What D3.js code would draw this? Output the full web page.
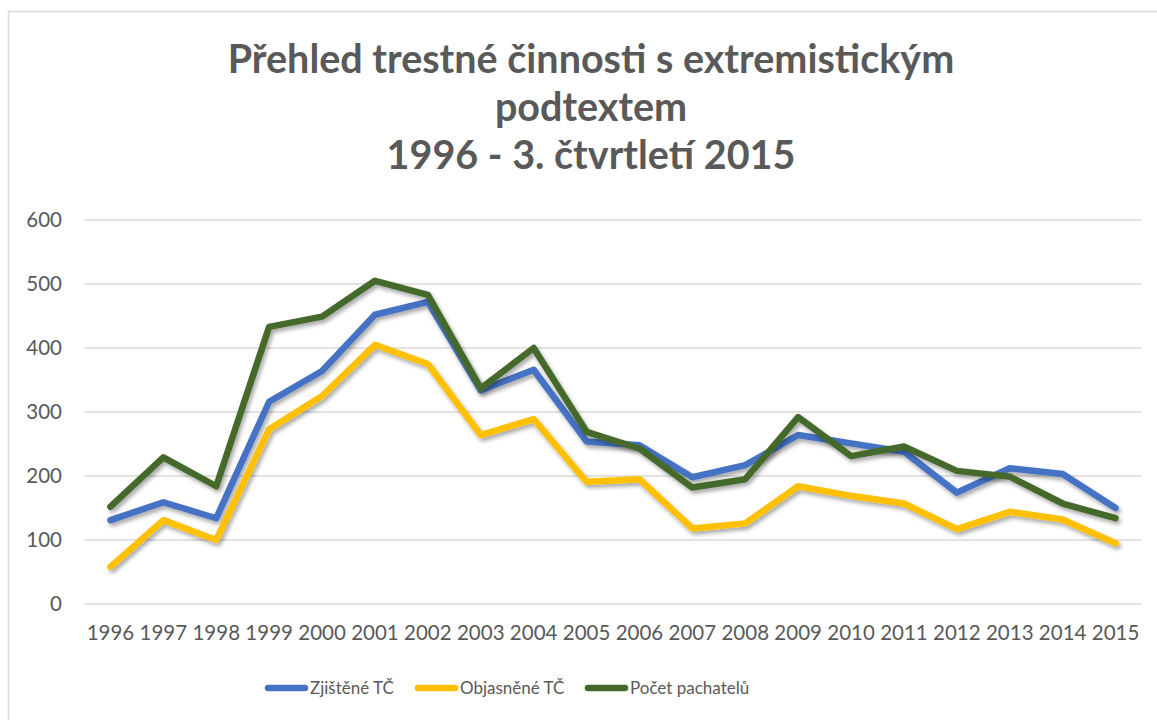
<!DOCTYPE html>
<html>
<head>
<meta charset="utf-8">
<script src="https://cdn.jsdelivr.net/npm/d3@7"></script>
<style>
  body { margin: 0; background: #fff; }
  svg { display: block; font-family: Lato, "Open Sans", sans-serif; }
</style>
</head>
<body>
<svg id="chart" width="1157" height="720"></svg>
<script>
// data
var years = ["1996","1997","1998","1999","2000","2001","2002","2003","2004","2005",
             "2006","2007","2008","2009","2010","2011","2012","2013","2014","2015"];
var zjistene = [131,159,134,316,364,452,472,334,366,254,248,198,217,264,251,238,174,212,203,150];
var objasnene = [58,131,100,273,325,405,375,264,289,191,195,118,126,184,169,157,117,144,132,95];
var pachatele = [152,229,184,433,449,505,483,337,400,269,243,182,195,292,231,246,208,199,157,134];
var yTicks = [0,100,200,300,400,500,600];
var titleLines = ["Přehled trestné činnosti s extremistickým", "podtextem", "1996 - 3. čtvrtletí 2015"];

var series = [
  { name: "Zjištěné TČ", values: zjistene, color: "#4472C4" },
  { name: "Objasněné TČ", values: objasnene, color: "#FFC000" },
  { name: "Počet pachatelů", values: pachatele, color: "#44692B" }
];

var svg = d3.select("#chart");

// outer frame
svg.append("rect")
  .attr("x", 8.5).attr("y", 11.5)
  .attr("width", 1160).attr("height", 720)
  .attr("fill", "none").attr("stroke", "#d9d9d9").attr("stroke-width", 1.5);

// shadow for the lines
var defs = svg.append("defs");
var f = defs.append("filter").attr("id", "shadow")
  .attr("x", "-5%").attr("y", "-5%").attr("width", "110%").attr("height", "120%");
f.append("feDropShadow")
  .attr("dx", 2).attr("dy", 3).attr("stdDeviation", 2)
  .attr("flood-color", "#000").attr("flood-opacity", 0.35);

// title
svg.append("text")
  .attr("text-anchor", "middle")
  .attr("fill", "#595959").attr("font-weight", "bold").attr("font-size", 39.5)
  .selectAll("tspan").data(titleLines).join("tspan")
  .attr("x", 591)
  .attr("y", function(d, i) { return 73 + i * 48; })
  .text(function(d) { return d; });

var x = d3.scaleBand().domain(years).range([84, 1142]);
var y = d3.scaleLinear().domain([0, 600]).range([604, 220]);

// gridlines
svg.append("g")
  .selectAll("line").data(yTicks).join("line")
  .attr("x1", 84).attr("x2", 1142)
  .attr("y1", function(d) { return y(d); })
  .attr("y2", function(d) { return y(d); })
  .attr("stroke", "#d9d9d9").attr("stroke-width", 1.5);

// y axis labels
var yAxis = svg.append("g")
  .attr("transform", "translate(62,0)")
  .call(d3.axisLeft(y).tickValues(yTicks).tickSize(0).tickPadding(0));
yAxis.select(".domain").remove();
yAxis.selectAll("text")
  .attr("font-family", "Lato, 'Open Sans', sans-serif")
  .attr("font-size", 20.5).attr("fill", "#595959");

// x axis labels
var xAxis = svg.append("g")
  .attr("transform", "translate(0,625)")
  .call(d3.axisBottom(x).tickSize(0).tickPadding(0));
xAxis.select(".domain").remove();
xAxis.selectAll("text")
  .attr("font-family", "Lato, 'Open Sans', sans-serif")
  .attr("font-size", 20.5).attr("fill", "#595959");

// lines
var line = d3.line()
  .x(function(d, i) { return x(years[i]) + x.bandwidth() / 2; })
  .y(function(d) { return y(d); });

svg.append("g")
  .selectAll("path").data(series).join("path")
  .attr("d", function(d) { return line(d.values); })
  .attr("fill", "none")
  .attr("stroke", function(d) { return d.color; })
  .attr("stroke-width", 6.5)
  .attr("stroke-linejoin", "round")
  .attr("stroke-linecap", "round")
  .attr("filter", "url(#shadow)");

// legend
var legendX = [268, 418, 588];
var legend = svg.append("g").selectAll("g").data(series).join("g")
  .attr("transform", function(d, i) { return "translate(" + legendX[i] + ",688)"; });
legend.append("line")
  .attr("x1", 0).attr("x2", 37)
  .attr("stroke", function(d) { return d.color; })
  .attr("stroke-width", 6.5).attr("stroke-linecap", "round");
legend.append("text")
  .attr("x", 42).attr("dy", "0.35em")
  .attr("font-size", 17).attr("fill", "#595959")
  .text(function(d) { return d.name; });
</script>
</body>
</html>
